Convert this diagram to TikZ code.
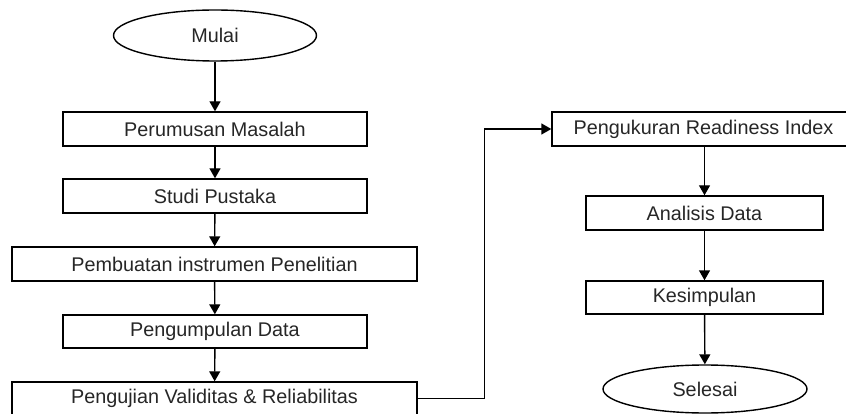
\documentclass[tikz,border=0pt]{standalone}
\usepackage{fontspec}
\setmainfont{Liberation Sans}
\usetikzlibrary{arrows.meta,positioning,shapes.geometric}
\tikzset{
    box/.style={draw,line width=1.4pt,align=center,inner sep=2pt,minimum height=34pt},
    terminal/.style={ellipse,draw,line width=1.4pt,inner sep=0pt},
    arrow/.style={-{Triangle[length=10pt,width=11pt]},line width=1.4pt}
}

\begin{document}
\begin{tikzpicture}[x=1pt,y=-1pt,every node/.style={font=\fontsize{19.8}{23}\selectfont,text=black!85}]
    \useasboundingbox (0,0) rectangle (846,414);
    % left column
    \node[terminal,minimum width=203pt,minimum height=51pt] (mulai) at (215,35.5) {Mulai};
    \node[box,minimum width=304pt] (masalah) at (215,129) {Perumusan Masalah};
    \node[box,minimum width=304pt] (pustaka) at (215,196) {Studi Pustaka};
    \node[box,minimum width=405pt] (instrumen) at (214.5,264) {Pembuatan instrumen Penelitian};
    \node[box,minimum width=304pt,minimum height=33pt] (pengumpulan) at (215,331.5) {Pengumpulan Data};
    \node[box,minimum width=405pt,minimum height=33pt] (pengujian) at (214.5,398.5) {Pengujian Validitas \& Reliabilitas};
    % right column
    \node[box,minimum width=303pt] (readiness) at (703.5,129) {Pengukuran Readiness Index};
    \node[box,minimum width=237pt] (analisis) at (704.5,213) {Analisis Data};
    \node[box,minimum width=237pt,minimum height=33pt] (kesimpulan) at (704.5,297.5) {Kesimpulan};
    \node[terminal,minimum width=204pt,minimum height=48pt] (selesai) at (705,389) {Selesai};
    % connectors
    \draw[arrow] (mulai) -- (masalah);
    \draw[arrow] (masalah) -- (pustaka);
    \draw[arrow] (pustaka) -- (instrumen);
    \draw[arrow] (instrumen) -- (pengumpulan);
    \draw[arrow] (pengumpulan) -- (pengujian);
    \draw[arrow] (pengujian.east) -- ++(67,0) |- (readiness.west);
    \draw[arrow] (readiness.south -| analisis) -- (analisis);
    \draw[arrow] (analisis) -- (kesimpulan);
    \draw[arrow] (kesimpulan) -- (selesai);
\end{tikzpicture}
\end{document}
